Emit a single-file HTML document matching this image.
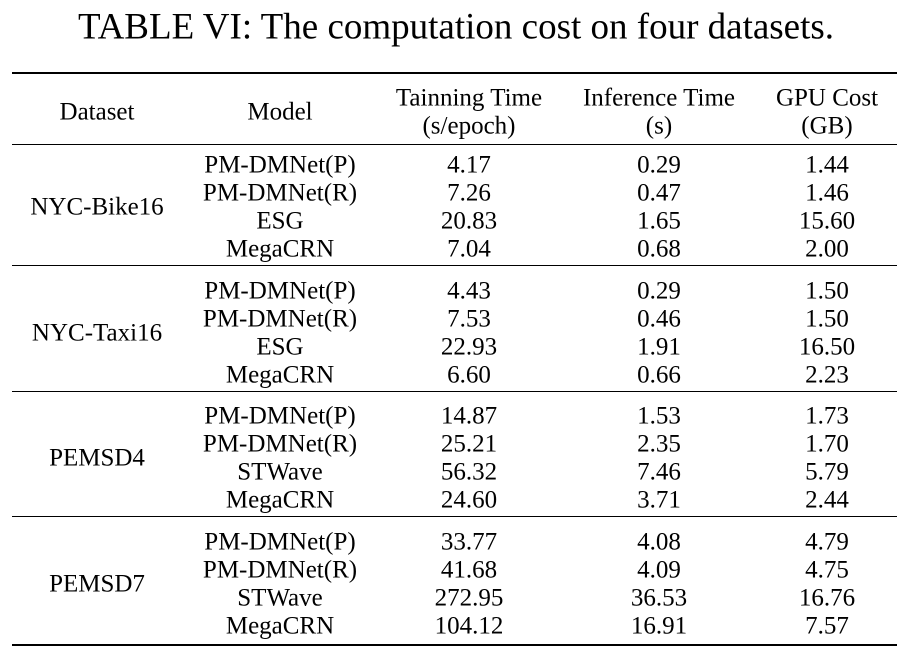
<!DOCTYPE html>
<html><head><meta charset="utf-8"><style>
body{margin:0;background:#fff;width:910px;height:657px;position:relative;overflow:hidden;font-family:"Liberation Serif",serif;color:#000}
.t{position:absolute;white-space:nowrap;transform:translate(-50%,-50%);font-size:25px;line-height:1}
.r{position:absolute;left:12px;width:885px;background:#000}
#title{font-size:37px}
</style></head><body>
<div class="t" id="title" style="left:456px;top:27px">TABLE VI: The computation cost on four datasets.</div>
<div class="r" style="top:72px;height:2px"></div>
<div class="r" style="top:144px;height:1px"></div>
<div class="r" style="top:265px;height:1px"></div>
<div class="r" style="top:391px;height:1px"></div>
<div class="r" style="top:516px;height:1px"></div>
<div class="r" style="top:644px;height:2px"></div>
<div id="tbl"></div>
<script>
const headers=[["Dataset",97,112],["Model",280,112],["Tainning Time",469,98],["(s/epoch)",469,126],["Inference Time",659,98],["(s)",659,126],["GPU Cost",827,98],["(GB)",827,126]];
const datasets=["NYC-Bike16","NYC-Taxi16","PEMSD4","PEMSD7"];
const models=[["PM-DMNet(P)","PM-DMNet(R)","ESG","MegaCRN"],["PM-DMNet(P)","PM-DMNet(R)","ESG","MegaCRN"],["PM-DMNet(P)","PM-DMNet(R)","STWave","MegaCRN"],["PM-DMNet(P)","PM-DMNet(R)","STWave","MegaCRN"]];
const train=[["4.17","7.26","20.83","7.04"],["4.43","7.53","22.93","6.60"],["14.87","25.21","56.32","24.60"],["33.77","41.68","272.95","104.12"]];
const infer=[["0.29","0.47","1.65","0.68"],["0.29","0.46","1.91","0.66"],["1.53","2.35","7.46","3.71"],["4.08","4.09","36.53","16.91"]];
const gpu=[["1.44","1.46","15.60","2.00"],["1.50","1.50","16.50","2.23"],["1.73","1.70","5.79","2.44"],["4.79","4.75","16.76","7.57"]];
const groupTop=[165,291,416,542];
const tbl=document.getElementById('tbl');
function cell(txt,x,y,name){const d=document.createElement('div');d.className='t';d.textContent=txt;d.style.left=x+'px';d.style.top=y+'px';


tbl.appendChild(d);}
headers.forEach(h=>cell(h[0],h[1],h[2],'header-cell'));
datasets.forEach((ds,g)=>{const y0=groupTop[g];cell(ds,97,y0+42,'dataset-label');
for(let i=0;i<4;i++){const y=y0+i*28;cell(models[g][i],280,y,'model-cell');cell(train[g][i],469,y,'training-time-cell');cell(infer[g][i],659,y,'inference-time-cell');cell(gpu[g][i],827,y,'gpu-cost-cell');}});
</script>
</body></html>
